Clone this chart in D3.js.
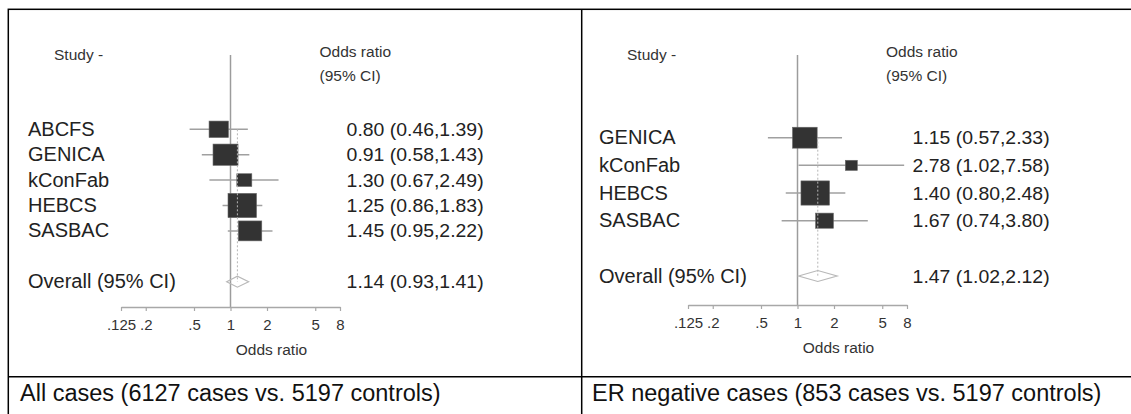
<!DOCTYPE html>
<html><head><meta charset="utf-8">
<script src="https://cdn.jsdelivr.net/npm/d3@7"></script>
<style>
body{margin:0;background:#fff}
svg{display:block}
text{font-family:"Liberation Sans",Arial,Helvetica,sans-serif}
</style>
</head><body>
<svg id="chart" width="1131" height="414"></svg>
<script>
// ---- data ----
const studiesAll   = ["ABCFS", "GENICA", "kConFab", "HEBCS", "SASBAC"];
const orAll        = [0.80, 0.91, 1.30, 1.25, 1.45];
const loAll        = [0.46, 0.58, 0.67, 0.86, 0.95];
const hiAll        = [1.39, 1.43, 2.49, 1.83, 2.22];
const weightAll    = [14.5, 24.2, 8.7, 31.4, 21.2];   // % weight (marker area)
const overallAll   = [1.14, 0.93, 1.41];              // OR, lo, hi

const studiesER    = ["GENICA", "kConFab", "HEBCS", "SASBAC"];
const orER         = [1.15, 2.78, 1.40, 1.67];
const loER         = [0.57, 1.02, 0.80, 0.74];
const hiER         = [2.33, 7.58, 2.48, 3.80];
const weightER     = [32.3, 7.6, 43.3, 16.9];
const overallER    = [1.47, 1.02, 2.12];

const tickValues   = [0.125, 0.2, 0.5, 1, 2, 5, 8];
const tickLabels   = [".125", ".2", ".5", "1", "2", "5", "8"];
const captions     = ["All cases (6127 cases vs. 5197 controls)",
                      "ER negative cases (853 cases vs. 5197 controls)"];

// ---- layout ----
const svg = d3.select("#chart");
const fmt = d3.format(".2f");

// table frame
const frame = svg.append("g").attr("stroke", "#000").attr("stroke-width", 1.5).attr("fill", "none");
frame.append("rect").attr("x", 8.3).attr("y", 9.3).attr("width", 1200).attr("height", 500);
frame.append("line").attr("x1", 581.7).attr("x2", 581.7).attr("y1", 9.3).attr("y2", 420);
frame.append("line").attr("x1", 8.3).attr("x2", 1200).attr("y1", 376.7).attr("y2", 376.7);

const panels = [
  {studies: studiesAll, or: orAll, lo: loAll, hi: hiAll, w: weightAll, overall: overallAll,
   xr: [121, 340], yFirst: 129.3, yOverall: 281.7, axisY: 307,
   labelX: 28, valueX: 346.6, studyHdrX: 54, orHdrX: 319.5, caption: captions[0], capX: 20},
  {studies: studiesER, or: orER, lo: loER, hi: hiER, w: weightER, overall: overallER,
   xr: [688, 907], yFirst: 137.7, yOverall: 276, axisY: 305,
   labelX: 599, valueX: 912.6, studyHdrX: 627, orHdrX: 886, caption: captions[1], capX: 592}
];

panels.forEach(p => {
  const g = svg.append("g");
  const x = d3.scaleLog().base(2).domain([0.125, 8]).range(p.xr);
  const rows = p.studies.concat(["__gap", "Overall (95% CI)"]);
  const y = d3.scalePoint().domain(rows).range([p.yFirst, p.yOverall]);
  const maxW = d3.max(p.w);
  const side = d3.scaleSqrt().domain([0, maxW]).range([0, 28.5]);

  // headers
  g.append("text").attr("x", p.studyHdrX).attr("y", 60).attr("font-size", 15.5).attr("fill", "#333").text("Study -");
  g.append("text").attr("x", p.orHdrX).attr("y", 57).attr("font-size", 15.5).attr("fill", "#333").text("Odds ratio");
  g.append("text").attr("x", p.orHdrX).attr("y", 81).attr("font-size", 15.5).attr("fill", "#333").text("(95% CI)");

  // null line at OR = 1
  g.append("line").attr("x1", x(1)).attr("x2", x(1)).attr("y1", 55).attr("y2", p.axisY)
    .attr("stroke", "#9c9c9c").attr("stroke-width", 1.5);

  // CI lines
  g.selectAll(".ci").data(p.studies).enter().append("line")
    .attr("x1", (d, i) => x(p.lo[i])).attr("x2", (d, i) => x(p.hi[i]))
    .attr("y1", d => y(d)).attr("y2", d => y(d))
    .attr("stroke", "#a0a0a0").attr("stroke-width", 1.5);

  // squares
  g.selectAll(".sq").data(p.studies).enter().append("rect")
    .attr("x", (d, i) => x(p.or[i]) - side(p.w[i]) / 2)
    .attr("y", (d, i) => y(d) - side(p.w[i]) * 0.85 / 2)
    .attr("width", (d, i) => side(p.w[i]))
    .attr("height", (d, i) => side(p.w[i]) * 0.85)
    .attr("fill", "#333").attr("stroke", "#666").attr("stroke-width", 0.6);

  // overall dotted line
  const yo = y("Overall (95% CI)");
  g.append("line").attr("x1", x(p.overall[0])).attr("x2", x(p.overall[0]))
    .attr("y1", p.yFirst).attr("y2", yo)
    .attr("stroke", "#b5b5b5").attr("stroke-width", 1).attr("stroke-dasharray", "2,2");

  // diamond
  const dh = 5.5;
  g.append("path")
    .attr("d", `M${x(p.overall[1])},${yo}L${x(p.overall[0])},${yo - dh}L${x(p.overall[2])},${yo}L${x(p.overall[0])},${yo + dh}Z`)
    .attr("fill", "none").attr("stroke", "#b8b8b8").attr("stroke-width", 1.2);

  // labels and values
  rows.forEach((r, i) => {
    if (r === "__gap") return;
    const isOverall = r === "Overall (95% CI)";
    const vals = isOverall ? p.overall : [p.or[i], p.lo[i], p.hi[i]];
    g.append("text").attr("x", p.labelX).attr("y", y(r) + 6.5).attr("font-size", 20).attr("fill", "#222").text(r);
    g.append("text").attr("x", p.valueX).attr("y", y(r) + 6.5).attr("font-size", 19)
      .attr("fill", "#222").attr("textLength", 137).attr("lengthAdjust", "spacingAndGlyphs")
      .text(`${fmt(vals[0])} (${fmt(vals[1])},${fmt(vals[2])})`);
  });

  // axis
  const axis = d3.axisBottom(x).tickValues(tickValues).tickFormat((d, i) => tickLabels[i])
    .tickSize(4).tickSizeOuter(0).tickPadding(8);
  const ag = g.append("g").attr("transform", `translate(0,${p.axisY})`).call(axis);
  ag.select(".domain").attr("stroke", "#a8a8a8").attr("stroke-width", 1.5);
  ag.selectAll(".tick line").attr("stroke", "#a8a8a8").attr("stroke-width", 1.2);
  ag.selectAll(".tick text").attr("font-size", 15).attr("fill", "#333")
    .attr("font-family", '"Liberation Sans",Arial,sans-serif');
  g.append("text").attr("x", x(1) + 41).attr("y", p.axisY + 48).attr("text-anchor", "middle")
    .attr("font-size", 15.5).attr("fill", "#333").text("Odds ratio");

  // caption
  svg.append("text").attr("x", p.capX).attr("y", 401).attr("font-size", 23.5).attr("fill", "#111").text(p.caption);
});
</script>
</body></html>
